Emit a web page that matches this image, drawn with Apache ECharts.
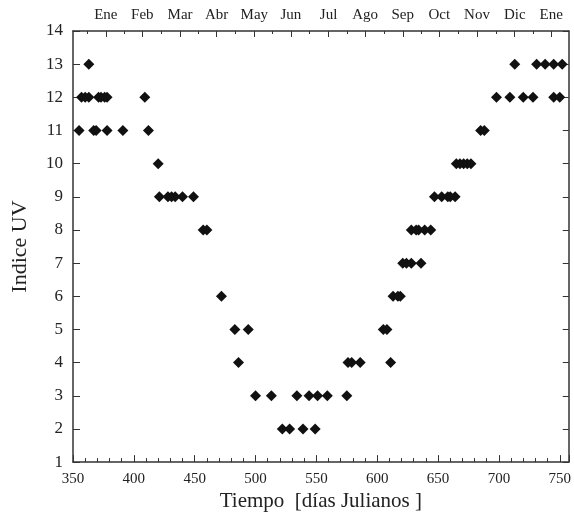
<!DOCTYPE html>
<html>
<head>
<meta charset="utf-8">
<script src="https://cdn.jsdelivr.net/npm/echarts@6/dist/echarts.min.js"></script>
<style>html,body{margin:0;padding:0;background:#fff}#c{width:574px;height:517px}</style>
</head>
<body>
<div id="c"></div>
<script>
// Julian day values, grouped by UV index
const uv13 = [363, 713, 731, 738, 745, 752];
const uv12 = [357, 360, 363, 371, 373, 376, 378, 409, 698, 709, 720, 728, 745, 750];
const uv11 = [355, 367, 369, 378, 391, 412, 685, 688];
const uv10 = [420, 665, 668, 671, 674, 677];
const uv9  = [421, 428, 431, 434, 440, 449, 647, 653, 658, 660, 664];
const uv8  = [457, 460, 628, 632, 634, 639, 644];
const uv7  = [621, 624, 628, 636];
const uv6  = [472, 613, 617, 619];
const uv5  = [483, 494, 605, 608];
const uv4  = [486, 576, 579, 586, 611];
const uv3  = [500, 513, 534, 544, 551, 559, 575];
const uv2  = [522, 528, 539, 549];

const monthLabels = ['Ene','Feb','Mar','Abr','May','Jun','Jul','Ago','Sep','Oct','Nov','Dic','Ene'];
const monthPos = [377, 407, 438, 468, 499, 529, 560, 590, 621, 651, 682, 713, 743];

const groups = [[13,uv13],[12,uv12],[11,uv11],[10,uv10],[9,uv9],[8,uv8],[7,uv7],[6,uv6],[5,uv5],[4,uv4],[3,uv3],[2,uv2]];
const points = [];
groups.forEach(function(g){ g[1].forEach(function(d){ points.push([d, g[0]]); }); });

const halfPos = [monthPos[0] - (monthPos[1]-monthPos[0])/2];
for (let i = 0; i < monthPos.length - 1; i++) halfPos.push((monthPos[i]+monthPos[i+1])/2);
halfPos.push(monthPos[monthPos.length-1] + (monthPos[1]-monthPos[0])/2);

const XMIN = 350, XMAX = 757.4;
const serif = 'Liberation Serif';
const lineStyle = {color:'#333', width:1.5};

const chart = echarts.init(document.getElementById('c'), null, {renderer:'canvas'});
chart.setOption({
  animation:false,
  backgroundColor:'#fff',
  grid:{left:73, right:3, top:31, bottom:54},
  xAxis:[
    {type:'value', position:'bottom', min:XMIN, max:XMAX, interval:50,
     name:'Tiempo  [días Julianos ]', nameLocation:'middle', nameGap:23,
     nameTextStyle:{fontFamily:serif, fontSize:21, color:'#222'},
     axisLine:{show:true, lineStyle:lineStyle},
     axisTick:{show:true, inside:true, length:7, lineStyle:{color:'#333', width:1}},
     minorTick:{show:true, splitNumber:5, length:4, lineStyle:{color:'#333', width:1}},
     splitLine:{show:false},
     axisLabel:{fontFamily:serif, fontSize:15, color:'#222', margin:9, showMaxLabel:true,
       formatter:function(v){ return (Math.abs(v % 50) < 1e-6) ? String(v) : ''; }}
    },
    {type:'value', position:'top', min:XMIN, max:XMAX,
     axisLine:{show:true, lineStyle:lineStyle},
     axisTick:{show:true, inside:true, length:6, customValues:monthPos, lineStyle:{color:'#333', width:1}},
     splitLine:{show:false},
     axisLabel:{show:true, customValues:monthPos, fontFamily:serif, fontSize:15, color:'#222', margin:8,
       formatter:function(v){ const i = monthPos.indexOf(v); return i >= 0 ? monthLabels[i] : ''; }}
    },
    {type:'value', position:'top', min:XMIN, max:XMAX,
     axisLine:{show:false},
     axisTick:{show:true, inside:true, length:3, customValues:halfPos, lineStyle:{color:'#333', width:1}},
     splitLine:{show:false},
     axisLabel:{show:false}
    }
  ],
  yAxis:[
    {type:'value', position:'left', min:1, max:14, interval:1,
     name:'Indice UV', nameLocation:'middle', nameGap:42,
     nameTextStyle:{fontFamily:serif, fontSize:22, color:'#222'},
     axisLine:{show:true, lineStyle:lineStyle},
     axisTick:{show:true, inside:true, length:7, lineStyle:{color:'#333', width:1}},
     splitLine:{show:false},
     axisLabel:{fontFamily:serif, fontSize:17, color:'#222', margin:10}
    },
    {type:'value', position:'right', min:1, max:14, interval:1,
     axisLine:{show:true, lineStyle:lineStyle},
     axisTick:{show:true, inside:true, length:6, lineStyle:{color:'#333', width:1}},
     splitLine:{show:false},
     axisLabel:{show:false}
    }
  ],
  series:[{
    type:'scatter', xAxisIndex:0, yAxisIndex:0,
    symbol:'diamond', symbolSize:[11,11],
    itemStyle:{color:'#111', opacity:1},
    data:points
  }]
});
</script>
</body>
</html>
